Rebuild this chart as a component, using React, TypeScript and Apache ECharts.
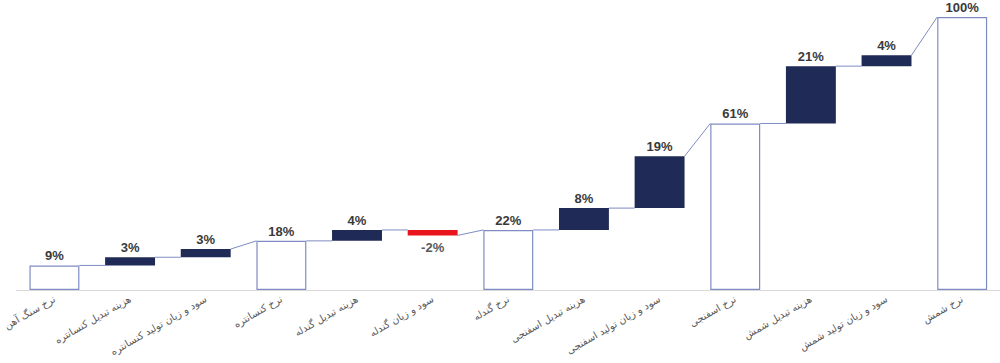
import React, { useEffect, useRef } from "react";
import * as echarts from "echarts";

const categories = [
  "نرخ سنگ آهن",
  "هزینه تبدیل کنسانتره",
  "سود و زیان تولید کنسانتره",
  "نرخ کنسانتره",
  "هزینه تبدیل گندله",
  "سود و زیان گندله",
  "نرخ گندله",
  "هزینه تبدیل اسفنجی",
  "سود و زیان تولید اسفنجی",
  "نرخ اسفنجی",
  "هزینه تبدیل شمش",
  "سود و زیان تولید شمش",
  "نرخ شمش",
];
const values = [9, 3, 3, 18, 4, -2, 22, 8, 19, 61, 21, 4, 100];
const isTotal = [true, false, false, true, false, false, true, false, false, true, false, false, true];

const NAVY = "#1f2a56";
const RED = "#e8161c";
const EDGE = "#7f8cc4";
const BAR_FRAC = 0.66;

export default function App() {
  const ref = useRef<HTMLDivElement>(null);
  useEffect(() => {
    if (!ref.current) return;
    const chart = echarts.init(ref.current, null, { renderer: "svg" });

    const starts: number[] = [];
    const ends: number[] = [];
    let level = 0;
    values.forEach((v, i) => {
      if (isTotal[i]) {
        level = v;
        starts.push(v);
        ends.push(v);
      } else {
        starts.push(level);
        level = level + v;
        ends.push(level);
      }
    });

    const labelStyle = {
      fontFamily: "Liberation Sans, Arial, sans-serif",
      fontSize: 13,
      fontWeight: "bold" as const,
      color: "#3a3a3a",
    };

    const baseData = values.map((v, i) => (isTotal[i] ? 0 : Math.min(starts[i], ends[i])));
    const deltaData = values.map((v, i) =>
      isTotal[i]
        ? { value: 0, label: { show: false } }
        : {
            value: Math.abs(v),
            itemStyle: { color: v < 0 ? RED : NAVY },
            label: {
              show: true,
              position: v < 0 ? "bottom" : "top",
              distance: v < 0 ? 6 : 3,
              formatter: () => v + "%",
              ...labelStyle,
              color: v < 0 ? "#595959" : "#3a3a3a",
            },
          }
    );
    const totalData = values.map((v, i) =>
      isTotal[i]
        ? {
            value: v,
            label: { show: true, position: "top", distance: 3, formatter: () => v + "%", ...labelStyle },
          }
        : "-"
    );
    const connData = values.slice(0, -1).map((v, i) => [i, ends[i], starts[i + 1]]);

    chart.setOption({
      animation: false,
      grid: { left: 16, top: 17, width: 987, height: 273, containLabel: false },
      xAxis: {
        type: "category",
        data: categories,
        axisLine: { show: true, lineStyle: { color: "#d9d9d9", width: 1 } },
        axisTick: { show: false },
        axisLabel: {
          interval: 0,
          rotate: 30,
          fontSize: 10,
          color: "#595959",
          fontFamily: "DejaVu Sans, sans-serif",
          margin: 8,
        },
      },
      yAxis: { type: "value", min: 0, max: 100, show: false, splitLine: { show: false } },
      series: [
        {
          type: "bar",
          stack: "w",
          barWidth: BAR_FRAC * 100 + "%",
          data: baseData,
          itemStyle: { color: "transparent" },
          silent: true,
        },
        {
          type: "bar",
          stack: "w",
          barWidth: BAR_FRAC * 100 + "%",
          data: deltaData,
        },
        {
          type: "bar",
          stack: "w",
          barWidth: BAR_FRAC * 100 + "%",
          data: totalData,
          itemStyle: { color: "#ffffff", borderColor: EDGE, borderWidth: 1.2 },
        },
        {
          type: "custom",
          data: connData,
          silent: true,
          z: 1,
          renderItem: (params: any, api: any) => {
            const i = api.value(0);
            const p1 = api.coord([i, api.value(1)]);
            const p2 = api.coord([i + 1, api.value(2)]);
            const catW = api.size([1, 0])[0];
            const half = (catW * BAR_FRAC) / 2;
            return {
              type: "line",
              shape: { x1: p1[0] + half, y1: p1[1], x2: p2[0] - half, y2: p2[1] },
              style: { stroke: EDGE, lineWidth: 1 },
            };
          },
        },
      ],
    });
    return () => chart.dispose();
  }, []);
  return (
    <div
      ref={ref}
      style={{ position: "fixed", left: 0, top: 0, width: 1000, height: 363, background: "#fff" }}
    />
  );
}
